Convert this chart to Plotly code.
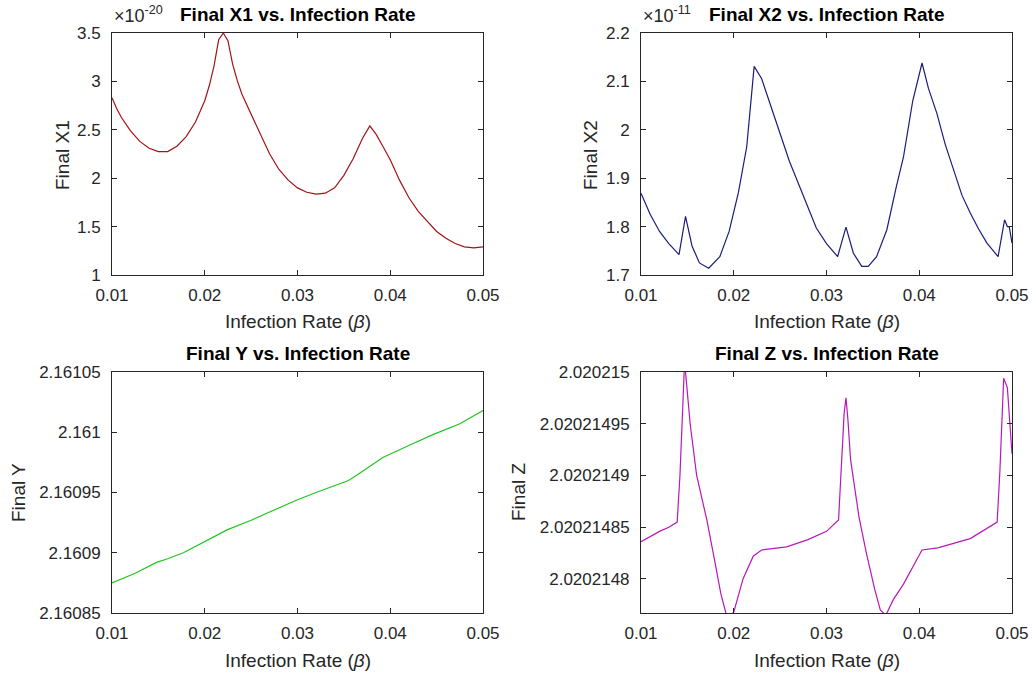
import plotly.graph_objects as go

# ---------------- data ----------------
x1_beta = [0.0100, 0.0105, 0.0110, 0.0120, 0.0130, 0.0140, 0.0150, 0.0160, 0.0170, 0.0180,
           0.0190, 0.0200, 0.0205, 0.0210, 0.0215, 0.0220, 0.0225, 0.0230, 0.0235, 0.0240,
           0.0250, 0.0260, 0.0270, 0.0280, 0.0290, 0.0300, 0.0310, 0.0320, 0.0330, 0.0340,
           0.0350, 0.0360, 0.0370, 0.0378, 0.0385, 0.0392, 0.0400, 0.0410, 0.0420, 0.0430,
           0.0440, 0.0450, 0.0460, 0.0470, 0.0480, 0.0490, 0.0500]
x1_mant = [2.83, 2.72, 2.63, 2.49, 2.38, 2.31, 2.275, 2.275, 2.33, 2.43,
           2.58, 2.80, 2.96, 3.16, 3.43, 3.50, 3.42, 3.18, 3.01, 2.87,
           2.66, 2.45, 2.25, 2.09, 1.98, 1.90, 1.855, 1.835, 1.845, 1.90,
           2.03, 2.20, 2.41, 2.54, 2.45, 2.33, 2.19, 1.98, 1.80, 1.66,
           1.55, 1.45, 1.38, 1.325, 1.29, 1.28, 1.29]
X1_SCALE = 1e-20

x2_beta = [0.0100, 0.0110, 0.0120, 0.0130, 0.0141, 0.0148, 0.0155, 0.0163, 0.0173, 0.0185,
           0.0195, 0.0205, 0.0214, 0.0222, 0.0230, 0.0240, 0.0250, 0.0260, 0.0271, 0.0280,
           0.0289, 0.0300, 0.0312, 0.0321, 0.0329, 0.0338, 0.0345, 0.0354, 0.0365, 0.0375,
           0.0383, 0.0393, 0.0403, 0.0410, 0.0419, 0.0428, 0.0437, 0.0446, 0.0455, 0.0464,
           0.0473, 0.0485, 0.0492, 0.0495, 0.0497, 0.0500]
x2_mant = [1.869, 1.825, 1.790, 1.765, 1.742, 1.821, 1.760, 1.725, 1.714, 1.738,
           1.790, 1.870, 1.965, 2.131, 2.106, 2.050, 1.993, 1.935, 1.883, 1.840,
           1.797, 1.765, 1.738, 1.799, 1.745, 1.718, 1.718, 1.738, 1.793, 1.880,
           1.944, 2.060, 2.138, 2.085, 2.034, 1.970, 1.917, 1.865, 1.828, 1.795,
           1.766, 1.738, 1.814, 1.800, 1.800, 1.766]
X2_SCALE = 1e-11

y_beta = [0.0100, 0.0125, 0.0148, 0.0160, 0.0177, 0.0200, 0.0224, 0.0250, 0.0267, 0.0300,
          0.0320, 0.0338, 0.0355, 0.0365, 0.0392, 0.0420, 0.0446, 0.0475, 0.0500]
y_vals = [2.160875, 2.160883, 2.160892, 2.160895, 2.160900, 2.160909, 2.160919, 2.160927,
          2.160933, 2.160944, 2.160950, 2.160955, 2.160960, 2.160965, 2.160979, 2.160989,
          2.160998, 2.161007, 2.161018]

z_beta = [0.0100, 0.0110, 0.0120, 0.0130, 0.0139, 0.0142, 0.0145, 0.0147, 0.0149, 0.0153,
          0.0160, 0.0171, 0.0180, 0.0186, 0.0193, 0.0200, 0.0210, 0.0221, 0.0230, 0.0257,
          0.0280, 0.0300, 0.0313, 0.0316, 0.0319, 0.0321, 0.0323, 0.0326, 0.0335, 0.0343,
          0.0352, 0.0358, 0.0364, 0.0372, 0.0383, 0.0403, 0.0420, 0.0455, 0.0484, 0.0487,
          0.0491, 0.0495, 0.0498, 0.0500]
z_vals = [2.020214836, 2.020214841, 2.020214846, 2.020214850, 2.020214855, 2.020214900,
          2.020214975, 2.020215010, 2.020214990, 2.020214950, 2.020214900, 2.020214857,
          2.020214815, 2.020214786, 2.020214762, 2.020214768, 2.020214800, 2.020214822,
          2.020214828, 2.020214831, 2.020214838, 2.020214846, 2.020214857, 2.020214905,
          2.020214960, 2.020214975, 2.020214955, 2.020214915, 2.020214860, 2.020214825,
          2.020214790, 2.020214770, 2.020214765, 2.020214780, 2.020214795, 2.020214828,
          2.020214830, 2.020214839, 2.020214855, 2.020214905, 2.020214994, 2.020214985,
          2.020214945, 2.020214921]

x_ticks = [0.01, 0.02, 0.03, 0.04, 0.05]
x_ticktext = ["0.01", "0.02", "0.03", "0.04", "0.05"]
x1_ticks = [1, 1.5, 2, 2.5, 3, 3.5]
x1_ticktext = ["1", "1.5", "2", "2.5", "3", "3.5"]
x2_ticks = [1.7, 1.8, 1.9, 2.0, 2.1, 2.2]
x2_ticktext = ["1.7", "1.8", "1.9", "2", "2.1", "2.2"]
y_ticks = [2.16085, 2.1609, 2.16095, 2.161, 2.16105]
y_ticktext = ["2.16085", "2.1609", "2.16095", "2.161", "2.16105"]
z_ticks = [2.0202148, 2.02021485, 2.0202149, 2.02021495, 2.020215]
z_ticktext = ["2.0202148", "2.02021485", "2.0202149", "2.02021495", "2.020215"]

titles = ["Final X1 vs. Infection Rate", "Final X2 vs. Infection Rate",
          "Final Y vs. Infection Rate", "Final Z vs. Infection Rate"]
ylabels = ["Final X1", "Final X2", "Final Y", "Final Z"]
xlabel = "Infection Rate (<i>β</i>)"

# ---------------- figure ----------------
W, H = 1033, 677
FONT = "Liberation Sans, Arial, Helvetica, sans-serif"
AX = "#262626"

fig = go.Figure()
fig.add_trace(go.Scatter(x=x1_beta, y=[v * X1_SCALE for v in x1_mant], mode="lines",
                         line=dict(color="#a01414", width=1.2), xaxis="x", yaxis="y"))
fig.add_trace(go.Scatter(x=x2_beta, y=[v * X2_SCALE for v in x2_mant], mode="lines",
                         line=dict(color="#1c1c7a", width=1.2), xaxis="x2", yaxis="y2"))
fig.add_trace(go.Scatter(x=y_beta, y=y_vals, mode="lines",
                         line=dict(color="#22c422", width=1.2), xaxis="x3", yaxis="y3"))
fig.add_trace(go.Scatter(x=z_beta, y=z_vals, mode="lines",
                         line=dict(color="#b818b8", width=1.2), xaxis="x4", yaxis="y4"))

# pixel boxes: (left, right, top, bottom)
boxes = [(112, 483, 33, 275), (641, 1012, 33, 275), (112, 483, 372, 613), (641, 1012, 372, 613)]

def px_x(p):
    return p / W

def px_y(p):
    return 1 - p / H

axis_common = dict(showline=True, linecolor=AX, linewidth=1, mirror="ticks", ticks="inside",
                   ticklen=5, tickcolor=AX, tickwidth=1, showgrid=False, zeroline=False,
                   automargin=False, tickfont=dict(family=FONT, size=17, color=AX))

yranges = [[1 * X1_SCALE, 3.5 * X1_SCALE], [1.7 * X2_SCALE, 2.2 * X2_SCALE],
           [2.16085, 2.16105], [2.0202147671, 2.020215]]
ytickvals = [[v * X1_SCALE for v in x1_ticks], [v * X2_SCALE for v in x2_ticks], y_ticks, z_ticks]
yticktexts = [x1_ticktext, x2_ticktext, y_ticktext, z_ticktext]

layout = dict(width=W, height=H, margin=dict(l=0, r=0, t=0, b=0), showlegend=False,
              paper_bgcolor="white", plot_bgcolor="white", font=dict(family=FONT, color=AX))
for i, (l, r, t, b) in enumerate(boxes):
    sfx = "" if i == 0 else str(i + 1)
    layout["xaxis" + sfx] = dict(axis_common, domain=[px_x(l), px_x(r)], range=[0.01, 0.05],
                                 tickvals=x_ticks, ticktext=x_ticktext,
                                 anchor="y" + sfx, ticklabelstandoff=5)
    layout["yaxis" + sfx] = dict(axis_common, domain=[px_y(b), px_y(t)], range=yranges[i],
                                 tickvals=ytickvals[i], ticktext=yticktexts[i],
                                 anchor="x" + sfx, ticklabelstandoff=7)
fig.update_layout(**layout)

ann = []
title_y = [15, 15, 353, 353]
xlab_y = [321, 321, 660, 660]
ylab_pos = [(62, 155), (590, 155), (18, 493), (518, 492)]
for i, (l, r, t, b) in enumerate(boxes):
    cx = (l + r) / 2
    ann.append(dict(text="<b>" + titles[i] + "</b>", x=px_x(cx), y=px_y(title_y[i]),
                    xref="paper", yref="paper", xanchor="center", yanchor="middle",
                    showarrow=False, font=dict(family=FONT, size=19, color="black")))
    ann.append(dict(text=xlabel, x=px_x(cx), y=px_y(xlab_y[i]), xref="paper", yref="paper",
                    xanchor="center", yanchor="middle", showarrow=False,
                    font=dict(family=FONT, size=19, color=AX)))
    ann.append(dict(text=ylabels[i], x=px_x(ylab_pos[i][0]), y=px_y(ylab_pos[i][1]),
                    xref="paper", yref="paper", xanchor="center", yanchor="middle",
                    textangle=-90, showarrow=False, font=dict(family=FONT, size=19, color=AX)))

ann.append(dict(text="×10<sup>-20</sup>", x=px_x(112), y=px_y(15), xref="paper", yref="paper",
                xanchor="left", yanchor="middle", showarrow=False,
                font=dict(family=FONT, size=18, color=AX)))
ann.append(dict(text="×10<sup>-11</sup>", x=px_x(641), y=px_y(15), xref="paper", yref="paper",
                xanchor="left", yanchor="middle", showarrow=False,
                font=dict(family=FONT, size=18, color=AX)))
fig.update_layout(annotations=ann)

fig.write_html("out.html", config={"displayModeBar": False},
               post_script="document.body.style.margin='0px';document.body.style.overflow='hidden';")
